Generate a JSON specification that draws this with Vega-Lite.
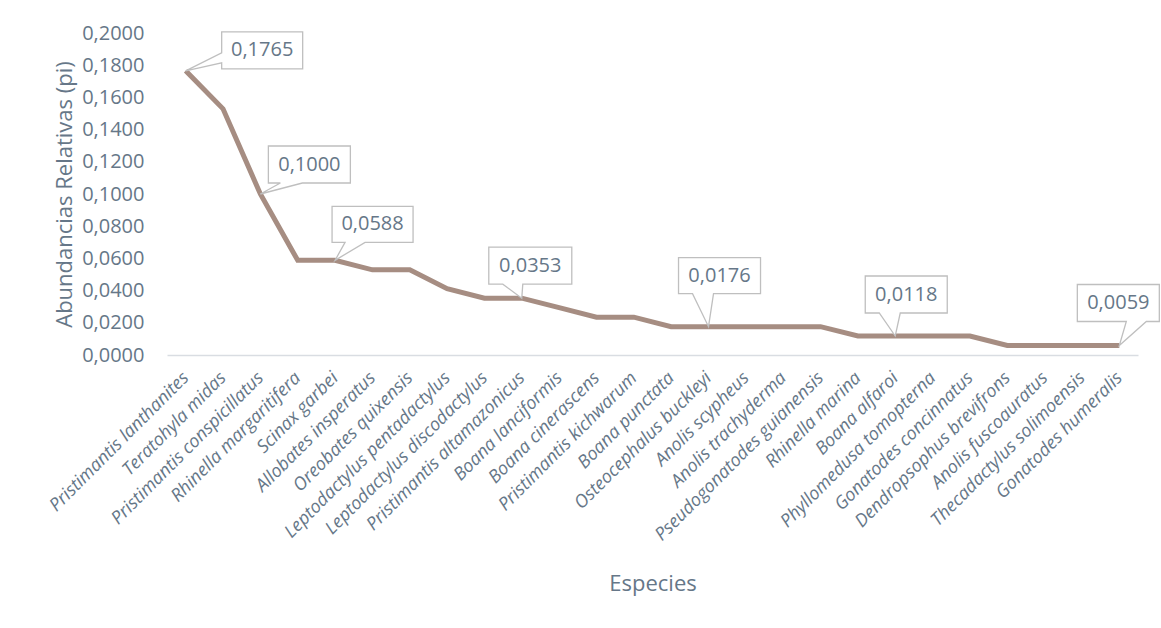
{
  "$schema": "https://vega.github.io/schema/vega-lite/v6.json",
  "width": 971,
  "height": 322,
  "autosize": {"type": "none"},
  "padding": {"left": 167, "top": 33, "right": 23, "bottom": 273},
  "background": "white",
  "config": {
    "view": {"stroke": null},
    "font": "Open Sans",
    "locale": {"number": {"decimal": ",", "thousands": ".", "grouping": [3], "currency": ["", " €"]}}
  },
  "data": {
    "values": [
      {"species": "Pristimantis lanthanites", "pi": 0.1765},
      {"species": "Teratohyla midas", "pi": 0.1529},
      {"species": "Pristimantis conspicillatus", "pi": 0.1000},
      {"species": "Rhinella margaritifera", "pi": 0.0588},
      {"species": "Scinax garbei", "pi": 0.0588},
      {"species": "Allobates insperatus", "pi": 0.0529},
      {"species": "Oreobates quixensis", "pi": 0.0529},
      {"species": "Leptodactylus pentadactylus", "pi": 0.0412},
      {"species": "Leptodactylus discodactylus", "pi": 0.0353},
      {"species": "Pristimantis altamazonicus", "pi": 0.0353},
      {"species": "Boana lanciformis", "pi": 0.0294},
      {"species": "Boana cinerascens", "pi": 0.0235},
      {"species": "Pristimantis kichwarum", "pi": 0.0235},
      {"species": "Boana punctata", "pi": 0.0176},
      {"species": "Osteocephalus buckleyi", "pi": 0.0176},
      {"species": "Anolis scypheus", "pi": 0.0176},
      {"species": "Anolis trachyderma", "pi": 0.0176},
      {"species": "Pseudogonatodes guianensis", "pi": 0.0176},
      {"species": "Rhinella marina", "pi": 0.0118},
      {"species": "Boana alfaroi", "pi": 0.0118},
      {"species": "Phyllomedusa tomopterna", "pi": 0.0118},
      {"species": "Gonatodes concinnatus", "pi": 0.0118},
      {"species": "Dendropsophus brevifrons", "pi": 0.0059},
      {"species": "Anolis fuscoauratus", "pi": 0.0059},
      {"species": "Thecadactylus solimoensis", "pi": 0.0059},
      {"species": "Gonatodes humeralis", "pi": 0.0059}
    ]
  },
  "encoding": {
    "x": {
      "field": "species",
      "type": "nominal",
      "sort": null,
      "scale": {"type": "point", "padding": 0.5},
      "axis": {
        "title": "Especies",
        "titleFont": "Open Sans",
        "titleFontSize": 22,
        "titleFontWeight": "normal",
        "titleColor": "#667788",
        "titleY": 228,
        "titleBaseline": "middle",
        "labelAngle": -45,
        "labelAlign": "right",
        "labelBaseline": "middle",
        "labelFontStyle": "italic",
        "labelFontSize": 18,
        "labelColor": "#667788",
        "labelPadding": 20,
        "labelLimit": 0,
        "labelOverlap": false,
        "ticks": false,
        "tickSize": 0,
        "grid": false,
        "domainColor": "#D9DDE2",
        "domainWidth": 1.5
      }
    },
    "y": {
      "field": "pi",
      "type": "quantitative",
      "scale": {"domain": [0, 0.2], "nice": false, "zero": true},
      "axis": {
        "title": "Abundancias Relativas (pi)",
        "titleFont": "Open Sans",
        "titleFontSize": 22,
        "titleFontWeight": "normal",
        "titleColor": "#667788",
        "titlePadding": 5,
        "values": [0, 0.02, 0.04, 0.06, 0.08, 0.1, 0.12, 0.14, 0.16, 0.18, 0.2],
        "format": ".4f",
        "labelFontSize": 20,
        "labelColor": "#667788",
        "labelPadding": 23,
        "ticks": false,
        "tickSize": 0,
        "domain": false,
        "grid": false
      }
    }
  },
  "layer": [
    {
      "mark": {"type": "line", "color": "#A68D82", "strokeWidth": 5, "strokeJoin": "miter", "strokeCap": "butt"}
    },
    {
      "transform": [{"filter": "datum.species == 'Pristimantis lanthanites'"}],
      "layer": [
        {"mark": {"type": "point", "filled": true, "fill": "white", "opacity": 1, "stroke": "#BFBFBF", "strokeWidth": 1.3, "size": 40000,
          "shape": "M 0.36 -0.39 L 1.17 -0.39 L 1.17 -0.02 L 0.36 -0.02 L 0.36 -0.08 L 0 0 L 0.36 -0.18 Z"}},
        {"mark": {"type": "text", "dx": 76.5, "dy": -20.5, "align": "center", "baseline": "middle", "fontSize": 20, "color": "#667788"},
         "encoding": {"text": {"field": "pi", "type": "quantitative", "format": ".4f"}}}
      ]
    },
    {
      "transform": [{"filter": "datum.species == 'Pristimantis conspicillatus'"}],
      "layer": [
        {"mark": {"type": "point", "filled": true, "fill": "white", "opacity": 1, "stroke": "#BFBFBF", "strokeWidth": 1.3, "size": 40000,
          "shape": "M 0.08 -0.48 L 0.90 -0.48 L 0.90 -0.11 L 0.42 -0.11 L 0 0 L 0.20 -0.11 L 0.08 -0.11 Z"}},
        {"mark": {"type": "text", "dx": 49, "dy": -29.5, "align": "center", "baseline": "middle", "fontSize": 20, "color": "#667788"},
         "encoding": {"text": {"field": "pi", "type": "quantitative", "format": ".4f"}}}
      ]
    },
    {
      "transform": [{"filter": "datum.species == 'Scinax garbei'"}],
      "layer": [
        {"mark": {"type": "point", "filled": true, "fill": "white", "opacity": 1, "stroke": "#BFBFBF", "strokeWidth": 1.3, "size": 40000,
          "shape": "M -0.03 -0.54 L 0.78 -0.54 L 0.78 -0.18 L 0.30 -0.18 L 0 0 L 0.10 -0.18 L -0.03 -0.18 Z"}},
        {"mark": {"type": "text", "dx": 37.5, "dy": -36, "align": "center", "baseline": "middle", "fontSize": 20, "color": "#667788"},
         "encoding": {"text": {"field": "pi", "type": "quantitative", "format": ".4f"}}}
      ]
    },
    {
      "transform": [{"filter": "datum.species == 'Pristimantis altamazonicus'"}],
      "layer": [
        {"mark": {"type": "point", "filled": true, "fill": "white", "opacity": 1, "stroke": "#BFBFBF", "strokeWidth": 1.3, "size": 40000,
          "shape": "M -0.33 -0.51 L 0.50 -0.51 L 0.50 -0.14 L 0.01 -0.14 L 0 0 L -0.19 -0.14 L -0.33 -0.14 Z"}},
        {"mark": {"type": "text", "dx": 8.5, "dy": -32.5, "align": "center", "baseline": "middle", "fontSize": 20, "color": "#667788"},
         "encoding": {"text": {"field": "pi", "type": "quantitative", "format": ".4f"}}}
      ]
    },
    {
      "transform": [{"filter": "datum.species == 'Osteocephalus buckleyi'"}],
      "layer": [
        {"mark": {"type": "point", "filled": true, "fill": "white", "opacity": 1, "stroke": "#BFBFBF", "strokeWidth": 1.3, "size": 40000,
          "shape": "M -0.30 -0.69 L 0.52 -0.69 L 0.52 -0.33 L 0.05 -0.33 L 0 0 L -0.16 -0.33 L -0.30 -0.33 Z"}},
        {"mark": {"type": "text", "dx": 11, "dy": -51, "align": "center", "baseline": "middle", "fontSize": 20, "color": "#667788"},
         "encoding": {"text": {"field": "pi", "type": "quantitative", "format": ".4f"}}}
      ]
    },
    {
      "transform": [{"filter": "datum.species == 'Boana alfaroi'"}],
      "layer": [
        {"mark": {"type": "point", "filled": true, "fill": "white", "opacity": 1, "stroke": "#BFBFBF", "strokeWidth": 1.3, "size": 40000,
          "shape": "M -0.30 -0.60 L 0.52 -0.60 L 0.52 -0.23 L 0.05 -0.23 L 0 0 L -0.16 -0.23 L -0.30 -0.23 Z"}},
        {"mark": {"type": "text", "dx": 11, "dy": -41.5, "align": "center", "baseline": "middle", "fontSize": 20, "color": "#667788"},
         "encoding": {"text": {"field": "pi", "type": "quantitative", "format": ".4f"}}}
      ]
    },
    {
      "transform": [{"filter": "datum.species == 'Gonatodes humeralis'"}],
      "layer": [
        {"mark": {"type": "point", "filled": true, "fill": "white", "opacity": 1, "stroke": "#BFBFBF", "strokeWidth": 1.3, "size": 40000,
          "shape": "M -0.42 -0.61 L 0.40 -0.61 L 0.40 -0.24 L 0.27 -0.24 L 0 0 L 0.07 -0.24 L -0.42 -0.24 Z"}},
        {"mark": {"type": "text", "dx": -1, "dy": -42.5, "align": "center", "baseline": "middle", "fontSize": 20, "color": "#667788"},
         "encoding": {"text": {"field": "pi", "type": "quantitative", "format": ".4f"}}}
      ]
    }
  ]
}
